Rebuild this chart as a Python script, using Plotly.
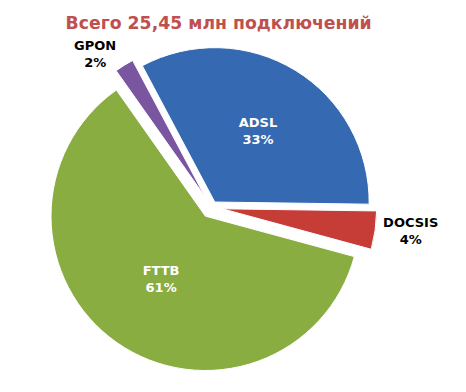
import plotly.graph_objects as go

labels = ["ADSL", "DOCSIS", "FTTB", "GPON"]
values = [33, 4, 61, 2]
colors = ["#3569b1", "#c63d38", "#8aad42", "#7a56a0"]
pulls = [0.04, 0.07, 0.07, 0.08]
positions = ["inside", "outside", "inside", "outside"]
title_text = "Всего 25,45 млн подключений"

fig = go.Figure(go.Pie(
    labels=labels,
    values=values,
    sort=False,
    direction="clockwise",
    rotation=-28,
    pull=pulls,
    marker=dict(colors=colors, line=dict(color="white", width=1)),
    texttemplate="<b>%{label}<br>%{percent:.0%}</b>",
    textposition=positions,
    insidetextorientation="horizontal",
    insidetextfont=dict(color="white", size=13, family="DejaVu Sans"),
    outsidetextfont=dict(color="black", size=13, family="DejaVu Sans"),
    domain=dict(x=[0.0774, 0.850], y=[0.0, 0.916]),
    showlegend=False,
    hoverinfo="label+percent",
))

fig.update_layout(
    width=466, height=392,
    margin=dict(l=0, r=0, t=0, b=0),
    paper_bgcolor="white",
    plot_bgcolor="white",
    title=dict(text="<b>" + title_text + "</b>", x=0.452, xanchor="center", y=0.963, yanchor="middle",
               font=dict(color="#c0504d", size=17.3, family="DejaVu Sans")),
)

fig.write_html("out.html")
